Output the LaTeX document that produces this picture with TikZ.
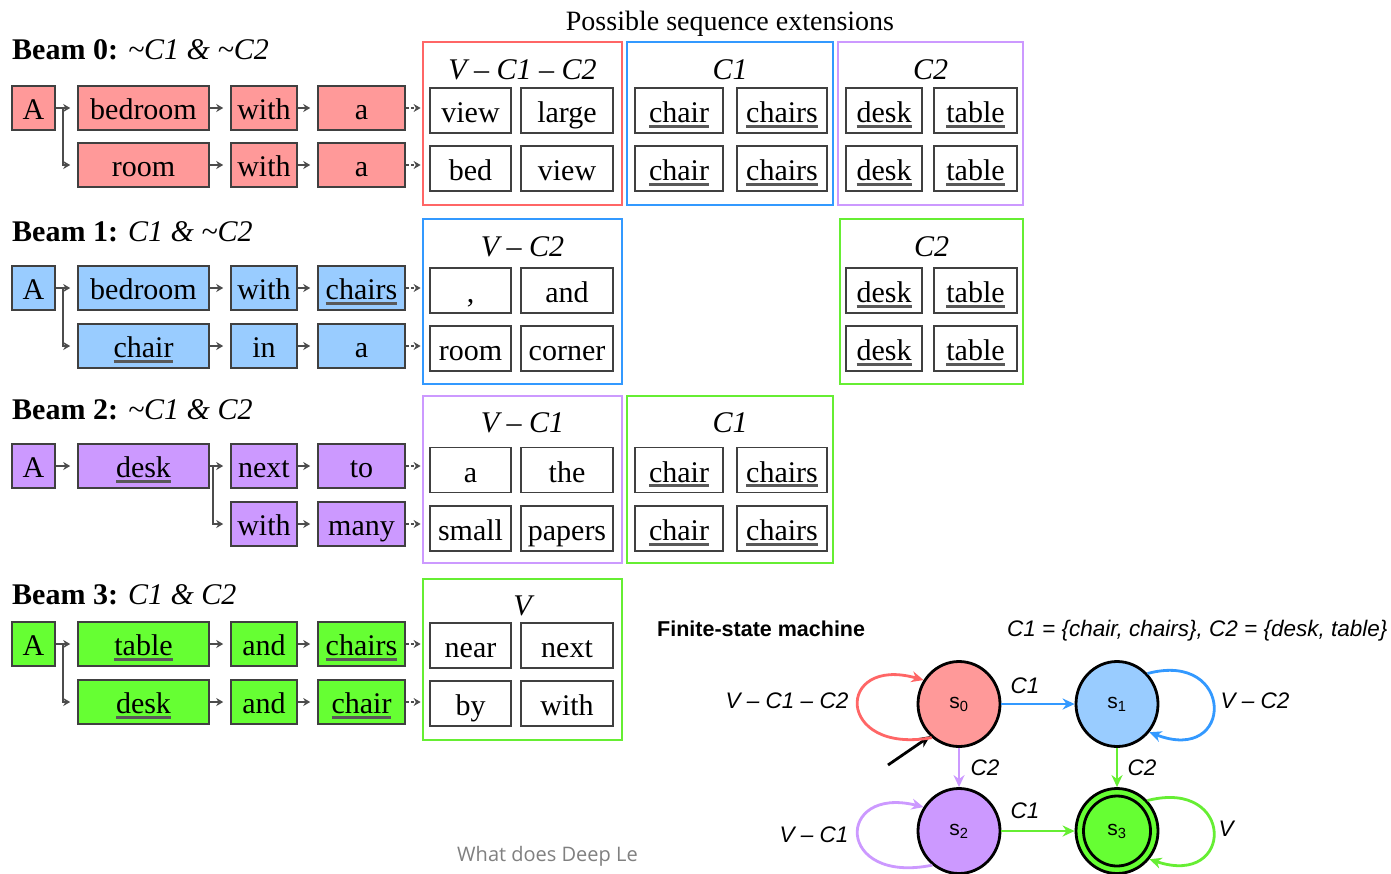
\documentclass[tikz,border=0pt]{standalone}
\usepackage{fontspec}
\setmainfont{Liberation Serif}
\newfontfamily\fsmfont{Liberation Sans}
\newfontfamily\notefont{Open Sans}
\usetikzlibrary{arrows.meta,shapes.geometric,calc}

\definecolor{bred}{HTML}{FF9999}
\definecolor{bblue}{HTML}{99CCFF}
\definecolor{bpurple}{HTML}{CC99FF}
\definecolor{bgreen}{HTML}{66FF33}
\definecolor{fred}{HTML}{FF6666}
\definecolor{fblue}{HTML}{3399FF}
\definecolor{fpurple}{HTML}{CC99FF}
\definecolor{fgreen}{HTML}{66EE33}

% thick grey underline for constraint words
\newsavebox\uwbox
\newcommand\uw[1]{\sbox\uwbox{#1}\rlap{\color{black!65}\rule[-5pt]{\wd\uwbox}{2.6pt}}\usebox\uwbox}

\tikzset{
  wd/.style={rectangle, draw=black!75, line width=1.6pt, inner sep=0pt,
    minimum height=44pt, text height=29pt, text depth=6pt,
    font=\fontsize{30}{32}\selectfont},
  cell/.style={wd, fill=white, minimum height=45pt, text height=30pt},
  frame/.style={rectangle, line width=2.8pt, inner sep=0pt},
  flabel/.style={anchor=base, inner sep=0pt, font=\fontsize{30}{32}\selectfont\itshape},
  title/.style={anchor=base west, inner sep=0pt, font=\fontsize{30}{32}\selectfont},
  arr/.style={draw=black!70, line width=1.7pt, -{Stealth[length=7pt,width=8pt]}, shorten >=7pt},
  darr/.style={arr, dash pattern=on 3pt off 2pt, shorten >=1pt},
  state/.style={ellipse, draw=black, line width=2.8pt, minimum width=82pt,
    minimum height=85pt, inner sep=0pt, font=\fsmfont\fontsize{21}{22}\selectfont},
  fsmarr/.style={line width=2.8pt, -{Stealth[length=12pt,width=11pt]}},
  lab/.style={anchor=base, inner sep=0pt, font=\fsmfont\itshape\fontsize{22.5}{24}\selectfont},
}

\begin{document}
\begin{tikzpicture}[x=1pt,y=-1pt]
\fill[white] (0,0) rectangle (1391,873);
\useasboundingbox (0,0) rectangle (1391,873);

\node[anchor=base, inner sep=0pt, font=\fontsize{28}{30}\selectfont] (head) at (730,30) {Possible sequence extensions};

% ---------------- Beam 0 ----------------
\node[title] (t0) at (12,59) {\textbf{Beam 0:} \textit{\textasciitilde C1 \& \textasciitilde C2}};
\node[wd,fill=bred,minimum width=43pt]  (b0a)  at (33.5,108) {A};
\node[wd,fill=bred,minimum width=131pt] (b0w1) at (143.5,108) {bedroom};
\node[wd,fill=bred,minimum width=66pt]  (b0w2) at (264,108) {with};
\node[wd,fill=bred,minimum width=87pt]  (b0w3) at (361.5,108) {a};
\node[wd,fill=bred,minimum width=131pt] (b0v1) at (143.5,165) {room};
\node[wd,fill=bred,minimum width=66pt]  (b0v2) at (264,165) {with};
\node[wd,fill=bred,minimum width=87pt]  (b0v3) at (361.5,165) {a};

\node[frame,draw=fred,minimum width=199pt,minimum height=163pt] (F0a) at (522.5,123.5) {};
\node[frame,draw=fblue,minimum width=206pt,minimum height=163pt] (F0b) at (730,123.5) {};
\node[frame,draw=fpurple,minimum width=185pt,minimum height=163pt] (F0c) at (930.5,123.5) {};
\node[flabel] (L0a) at (522.5,79) {V – C1 – C2};
\node[flabel] (L0b) at (730,79) {C1};
\node[flabel] (L0c) at (930.5,79) {C2};
\node[cell,minimum width=81pt] (c0a1) at (470.5,110.5) {view};
\node[cell,minimum width=92pt] (c0a2) at (567,110.5) {large};
\node[cell,minimum width=81pt] (c0a3) at (470.5,168.5) {bed};
\node[cell,minimum width=92pt] (c0a4) at (567,168.5) {view};
\node[cell,minimum width=88pt] (c0b1) at (679,110.5) {\uw{chair}};
\node[cell,minimum width=90pt] (c0b2) at (782,110.5) {\uw{chairs}};
\node[cell,minimum width=88pt] (c0b3) at (679,168.5) {\uw{chair}};
\node[cell,minimum width=90pt] (c0b4) at (782,168.5) {\uw{chairs}};
\node[cell,minimum width=76pt] (c0c1) at (884,110.5) {\uw{desk}};
\node[cell,minimum width=83pt] (c0c2) at (975.5,110.5) {\uw{table}};
\node[cell,minimum width=76pt] (c0c3) at (884,168.5) {\uw{desk}};
\node[cell,minimum width=83pt] (c0c4) at (975.5,168.5) {\uw{table}};

\draw[arr] (b0a) -- (b0w1);
\draw[arr] ($(b0a.east)+(7,0)$) |- (b0v1.west);
\draw[arr] (b0w1) -- (b0w2);
\draw[arr] (b0w2) -- (b0w3);
\draw[arr] (b0v1) -- (b0v2);
\draw[arr] (b0v2) -- (b0v3);
\draw[darr] (b0w3) -- (b0w3 -| F0a.west);
\draw[darr] (b0v3) -- (b0v3 -| F0a.west);

% ---------------- Beam 1 ----------------
\node[title] (t1) at (12,241) {\textbf{Beam 1:} \textit{C1 \& \textasciitilde C2}};
\node[wd,fill=bblue,minimum width=43pt]  (b1a)  at (33.5,288) {A};
\node[wd,fill=bblue,minimum width=131pt] (b1w1) at (143.5,288) {bedroom};
\node[wd,fill=bblue,minimum width=66pt]  (b1w2) at (264,288) {with};
\node[wd,fill=bblue,minimum width=87pt]  (b1w3) at (361.5,288) {\uw{chairs}};
\node[wd,fill=bblue,minimum width=131pt] (b1v1) at (143.5,346) {\uw{chair}};
\node[wd,fill=bblue,minimum width=66pt]  (b1v2) at (264,346) {in};
\node[wd,fill=bblue,minimum width=87pt]  (b1v3) at (361.5,346) {a};

\node[frame,draw=fblue,minimum width=199pt,minimum height=165pt] (F1a) at (522.5,301.5) {};
\node[frame,draw=fgreen,minimum width=183pt,minimum height=165pt] (F1c) at (931.5,301.5) {};
\node[flabel] (L1a) at (522.5,256) {V – C2};
\node[flabel] (L1c) at (931.5,256) {C2};
\node[cell,minimum width=81pt] (c1a1) at (470.5,290.5) {,};
\node[cell,minimum width=92pt] (c1a2) at (567,290.5) {and};
\node[cell,minimum width=81pt] (c1a3) at (470.5,348.5) {room};
\node[cell,minimum width=92pt] (c1a4) at (567,348.5) {corner};
\node[cell,minimum width=76pt] (c1c1) at (884,290.5) {\uw{desk}};
\node[cell,minimum width=83pt] (c1c2) at (975.5,290.5) {\uw{table}};
\node[cell,minimum width=76pt] (c1c3) at (884,348.5) {\uw{desk}};
\node[cell,minimum width=83pt] (c1c4) at (975.5,348.5) {\uw{table}};

\draw[arr] (b1a) -- (b1w1);
\draw[arr] ($(b1a.east)+(7,0)$) |- (b1v1.west);
\draw[arr] (b1w1) -- (b1w2);
\draw[arr] (b1w2) -- (b1w3);
\draw[arr] (b1v1) -- (b1v2);
\draw[arr] (b1v2) -- (b1v3);
\draw[darr] (b1w3) -- (b1w3 -| F1a.west);
\draw[darr] (b1v3) -- (b1v3 -| F1a.west);

% ---------------- Beam 2 ----------------
\node[title] (t2) at (12,419) {\textbf{Beam 2:} \textit{\textasciitilde C1 \& C2}};
\node[wd,fill=bpurple,minimum width=43pt]  (b2a)  at (33.5,466) {A};
\node[wd,fill=bpurple,minimum width=131pt] (b2w1) at (143.5,466) {\uw{desk}};
\node[wd,fill=bpurple,minimum width=66pt]  (b2w2) at (264,466) {next};
\node[wd,fill=bpurple,minimum width=87pt]  (b2w3) at (361.5,466) {to};
\node[wd,fill=bpurple,minimum width=66pt]  (b2v2) at (264,524) {with};
\node[wd,fill=bpurple,minimum width=87pt]  (b2v3) at (361.5,524) {many};

\node[frame,draw=fpurple,minimum width=199pt,minimum height=167pt] (F2a) at (522.5,479.5) {};
\node[frame,draw=fgreen,minimum width=206pt,minimum height=167pt] (F2b) at (730,479.5) {};
\node[flabel] (L2a) at (522.5,432) {V – C1};
\node[flabel] (L2b) at (730,432) {C1};
\node[cell,minimum width=81pt] (c2a1) at (470.5,470) {a};
\node[cell,minimum width=92pt] (c2a2) at (567,470) {the};
\node[cell,minimum width=81pt] (c2a3) at (470.5,528.5) {small};
\node[cell,minimum width=92pt] (c2a4) at (567,528.5) {papers};
\node[cell,minimum width=88pt] (c2b1) at (679,470) {\uw{chair}};
\node[cell,minimum width=90pt] (c2b2) at (782,470) {\uw{chairs}};
\node[cell,minimum width=88pt] (c2b3) at (679,528.5) {\uw{chair}};
\node[cell,minimum width=90pt] (c2b4) at (782,528.5) {\uw{chairs}};

\draw[arr] (b2a) -- (b2w1);
\draw[arr] (b2w1) -- (b2w2);
\draw[arr] ($(b2w1.east)+(3,0)$) |- (b2v2.west);
\draw[arr] (b2w2) -- (b2w3);
\draw[arr] (b2v2) -- (b2v3);
\draw[darr] (b2w3) -- (b2w3 -| F2a.west);
\draw[darr] (b2v3) -- (b2v3 -| F2a.west);

% ---------------- Beam 3 ----------------
\node[title] (t3) at (12,604) {\textbf{Beam 3:} \textit{C1 \& C2}};
\node[wd,fill=bgreen,minimum width=43pt]  (b3a)  at (33.5,644) {A};
\node[wd,fill=bgreen,minimum width=131pt] (b3w1) at (143.5,644) {\uw{table}};
\node[wd,fill=bgreen,minimum width=66pt]  (b3w2) at (264,644) {and};
\node[wd,fill=bgreen,minimum width=87pt]  (b3w3) at (361.5,644) {\uw{chairs}};
\node[wd,fill=bgreen,minimum width=131pt] (b3v1) at (143.5,702) {\uw{desk}};
\node[wd,fill=bgreen,minimum width=66pt]  (b3v2) at (264,702) {and};
\node[wd,fill=bgreen,minimum width=87pt]  (b3v3) at (361.5,702) {\uw{chair}};

\node[frame,draw=fgreen,minimum width=199pt,minimum height=161pt] (F3a) at (522.5,659.5) {};
\node[flabel] (L3a) at (522.5,615) {V};
\node[cell,minimum width=81pt] (c3a1) at (470.5,645.5) {near};
\node[cell,minimum width=92pt] (c3a2) at (567,645.5) {next};
\node[cell,minimum width=81pt] (c3a3) at (470.5,703.5) {by};
\node[cell,minimum width=92pt] (c3a4) at (567,703.5) {with};

\draw[arr] (b3a) -- (b3w1);
\draw[arr] ($(b3a.east)+(7,0)$) |- (b3v1.west);
\draw[arr] (b3w1) -- (b3w2);
\draw[arr] (b3w2) -- (b3w3);
\draw[arr] (b3v1) -- (b3v2);
\draw[arr] (b3v2) -- (b3v3);
\draw[darr] (b3w3) -- (b3w3 -| F3a.west);
\draw[darr] (b3v3) -- (b3v3 -| F3a.west);

% ---------------- Finite-state machine ----------------
\node[anchor=base west, inner sep=0pt, font=\fsmfont\bfseries\fontsize{21.5}{23}\selectfont] (fsmt) at (657,636) {Finite-state machine};
\node[anchor=base west, inner sep=0pt, font=\fsmfont\itshape\fontsize{22.5}{24}\selectfont] (sets) at (1007,636) {C1 = \{chair, chairs\}, C2 = \{desk, table\}};

\node[state, fill=bred]    (s0) at (959,704) {s\textsubscript{0}};
\node[state, fill=bblue]   (s1) at (1117,704) {s\textsubscript{1}};
\node[state, fill=bpurple] (s2) at (959,831) {s\textsubscript{2}};
\node[state, fill=bgreen]  (s3) at (1117,831) {s\textsubscript{3}};
\node[ellipse, draw=black, line width=2.8pt, minimum width=67pt, minimum height=70pt, inner sep=0pt] (s3in) at (1117,831) {};

\coordinate (init) at (888,765);
\draw[fsmarr, draw=black] (init) -- (s0.228);

\draw[fsmarr, draw=fred] (s0.231) .. controls (835,755) and (835,655) .. (s0.146);
\draw[fsmarr, draw=fblue] (s1.45) .. controls (1235,650) and (1235,765) .. (s1.-41);
\draw[fsmarr, draw=fpurple] (s2.232) .. controls (835,885) and (835,785) .. (s2.146);
\draw[fsmarr, draw=fgreen] (s3.45) .. controls (1235,778) and (1235,888) .. (s3.-41);

\draw[fsmarr, draw=fblue] (s0) -- (s1);
\draw[fsmarr, draw=fpurple] (s0) -- (s2);
\draw[fsmarr, draw=fgreen] (s1) -- (s3);
\draw[fsmarr, draw=fgreen] (s2) -- (s3);

\node[lab] (l00) at (787,708) {V – C1 – C2};
\node[lab] (l01) at (1025,693) {C1};
\node[lab] (l11) at (1255,708) {V – C2};
\node[lab] (l02) at (985,775) {C2};
\node[lab] (l13) at (1142,775) {C2};
\node[lab] (l22) at (814,842) {V – C1};
\node[lab] (l23) at (1025,818) {C1};
\node[lab] (l33) at (1226,836) {V};

% footer, cut at the right
\begin{scope}
  \clip (450,835) rectangle (640,873);
  \node[anchor=base west, inner sep=0pt, text=black!50, font=\notefont\fontsize{20}{22}\selectfont] (note) at (457,861) {What does Deep Le};
\end{scope}
\end{tikzpicture}
\end{document}
